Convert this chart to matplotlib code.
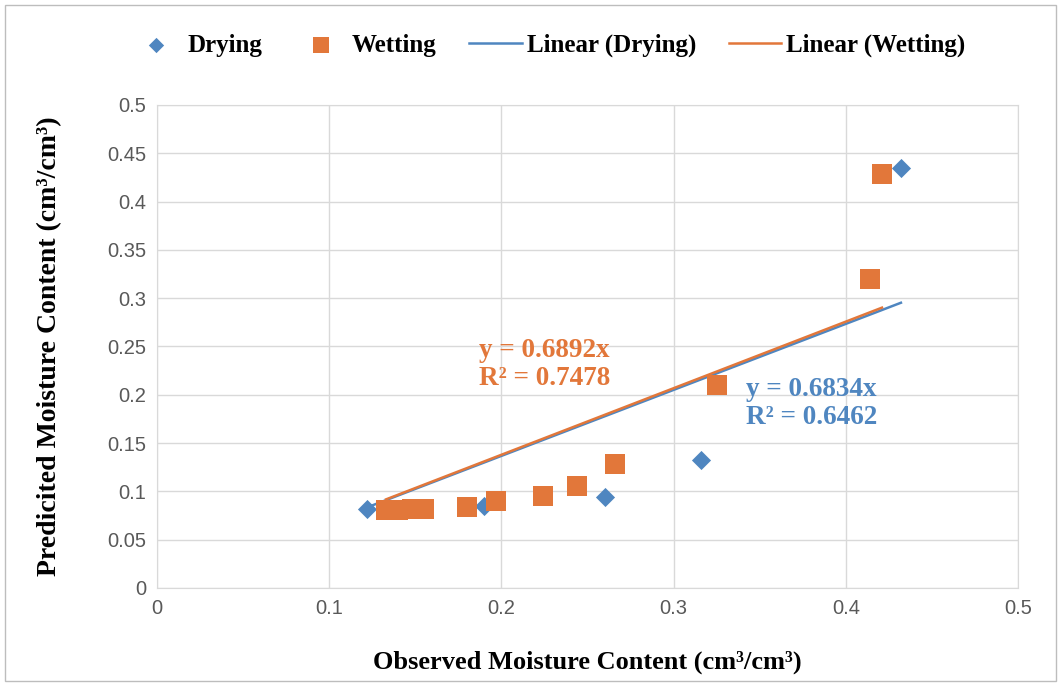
import matplotlib
matplotlib.use("Agg")
import matplotlib.pyplot as plt
from matplotlib.patches import Rectangle
import numpy as np

drying_x = [0.122, 0.190, 0.260, 0.316, 0.432]
drying_y = [0.082, 0.085, 0.094, 0.132, 0.435]
wetting_x = [0.133, 0.140, 0.148, 0.155, 0.180, 0.197, 0.224, 0.244, 0.266, 0.325, 0.414, 0.421]
wetting_y = [0.081, 0.081, 0.082, 0.082, 0.084, 0.090, 0.095, 0.105, 0.128, 0.210, 0.320, 0.429]
slope_drying = 0.6834
slope_wetting = 0.6892
r2_drying = 0.6462
r2_wetting = 0.7478
x_ticks = [0, 0.1, 0.2, 0.3, 0.4, 0.5]
y_ticks = [0, 0.05, 0.1, 0.15, 0.2, 0.25, 0.3, 0.35, 0.4, 0.45, 0.5]

blue = "#4F86C0"
orange = "#E2773A"
serif = "Liberation Serif"
sans = "Liberation Sans"

fig = plt.figure(figsize=(10.61, 6.86), dpi=100)
fig.patches.append(Rectangle((0.005, 0.008), 0.99, 0.985, transform=fig.transFigure,
                             fill=False, edgecolor="#bdbdbd", linewidth=1))
ax = fig.add_axes([0.148, 0.143, 0.8115, 0.704])

ax.set_xlim(0, 0.5)
ax.set_ylim(0, 0.5)
ax.set_xticks(x_ticks)
ax.set_yticks(y_ticks)
ax.set_xticklabels([f"{v:g}" for v in x_ticks])
ax.set_yticklabels([f"{v:g}" for v in y_ticks])
ax.grid(True, color="#d9d9d9", linewidth=1)
ax.set_axisbelow(True)
for s in ax.spines.values():
    s.set_color("#d9d9d9")
ax.tick_params(length=0, labelsize=14.5, colors="#595959", pad=8)
for lbl in ax.get_xticklabels() + ax.get_yticklabels():
    lbl.set_family(sans)

ax.scatter(drying_x, drying_y, marker="D", s=95, color=blue, label="Drying", zorder=3, linewidths=0)
ax.scatter(wetting_x, wetting_y, marker="s", s=200, color=orange, label="Wetting", zorder=3, linewidths=0)

xd = np.array([min(drying_x), max(drying_x)])
xw = np.array([min(wetting_x), max(wetting_x)])
ax.plot(xd, slope_drying * xd, color=blue, linewidth=1.8, label="Linear (Drying)", zorder=2)
ax.plot(xw, slope_wetting * xw, color=orange, linewidth=1.8, label="Linear (Wetting)", zorder=2)

ax.text(0.225, 0.231, f"y = {slope_wetting}x\nR² = {r2_wetting}", color=orange,
        family=serif, fontweight="bold", fontsize=19.5, ha="center", va="center", linespacing=1.15)
ax.text(0.380, 0.191, f"y = {slope_drying}x\nR² = {r2_drying}", color=blue,
        family=serif, fontweight="bold", fontsize=19.5, ha="center", va="center", linespacing=1.15)

ax.set_xlabel("Observed Moisture Content (cm³/cm³)", family=serif, fontweight="bold", fontsize=19)
ax.set_ylabel("Predicited Moisture Content (cm³/cm³)", family=serif, fontweight="bold", fontsize=20)
ax.xaxis.set_label_coords(0.5, -0.130)
ax.yaxis.set_label_coords(-0.110, 0.5)

leg = fig.legend(loc="center", bbox_to_anchor=(0.516, 0.934), ncol=4, frameon=False,
                 prop={"family": serif, "weight": "bold", "size": 18},
                 handlelength=2.1, columnspacing=1.3, handletextpad=0.2, markerscale=0.8)

fig.savefig("out.png", dpi=100)
